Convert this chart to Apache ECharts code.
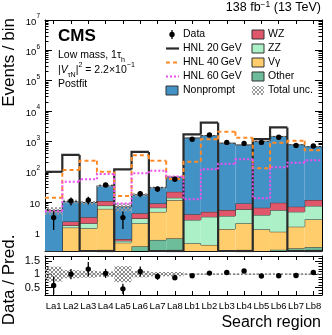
<!DOCTYPE html>
<html>
<head>
<meta charset="utf-8">
<title>HNL low mass search regions</title>
<script src="https://cdn.jsdelivr.net/npm/echarts@6/dist/echarts.min.js"></script>
<style>
  html, body { margin: 0; padding: 0; background: #fff; }
  #main { width: 332px; height: 335px; }
</style>
</head>
<body>
<div id="main"></div>
<script>
// search regions
var regions = ['La1', 'La2', 'La3', 'La4', 'La5', 'La6', 'La7', 'La8',
               'Lb1', 'Lb2', 'Lb3', 'Lb4', 'Lb5', 'Lb6', 'Lb7', 'Lb8'];

// postfit backgrounds, stacked bottom -> top
var other     = [0.01, 0.01, 0.01, 0.01, 0.01, 0.35, 0.57, 0.64, 0.1, 0.1, 0.1, 0.15, 0.1, 0.27, 0.3, 0.33];
var vgamma    = [0.05, 1.44, 1.37, 6.0, 0.45, 1.65, 4.2, 11.0, 0.34, 0.29, 1.2, 1.85, 1.17, 0.79, 1.25, 2.37];
var zz        = [0.03, 0.25, 0.63, 1.7, 0.07, 0.9, 1.8, 2.3, 2.15, 2.9, 2.2, 3.8, 2.5, 4.4, 3.25, 4.8];
var wz        = [0.05, 0.6, 1.2, 3.2, 0.08, 1.4, 2.5, 8.0, 1.4, 1.5, 2.0, 3.3, 2.8, 4.1, 2.3, 4.3];
var nonprompt = [5.2, 8.2, 6.5, 24, 6.4, 13.2, 21, 45, 1300, 1550, 875, 760, 995, 1450, 775, 660];
// relative total uncertainty
var totalUnc  = [0.28, 0.15, 0.13, 0.1, 0.3, 0.12, 0.08, 0.08, 0.03, 0.03, 0.03, 0.03, 0.03, 0.03, 0.03, 0.03];

// signal hypotheses (0 = nothing in that bin)
var hnl20 = [100, 360, 0, 0, 120, 450, 0, 0, 1700, 4150, 0, 0, 1200, 2900, 0, 0];
var hnl40 = [14, 115, 230, 100, 16, 350, 230, 58, 214, 1170, 2100, 1320, 130, 910, 1050, 510];
var hnl60 = [5, 47, 57, 85, 9, 89, 108, 70, 12.4, 121, 185, 257, 13.4, 140, 200, 240];

// observed
var dataObs = [3.1, 11, 11.7, 37, 3.1, 19, 27, 57, 1180, 1620, 930, 860, 930, 1370, 740, 710];
var dataErr = [1.9, 3.3, 3.4, 6, 1.8, 4.4, 5.2, 7.5, 34, 40, 30, 29, 30, 37, 27, 27];

// lower panel
var ratio    = [0.58, 1.0, 1.19, 1.03, 0.45, 1.1, 0.91, 0.87, 0.94, 1.04, 1.06, 1.12, 0.93, 0.94, 0.95, 1.06];
var ratioErr = [0.33, 0.19, 0.27, 0.17, 0.19, 0.19, 0.12, 0.1, 0.03, 0.03, 0.03, 0.03, 0.03, 0.03, 0.03, 0.03];

// axis ticks
var yMajorTicks = [1, 10, 100, 1e3, 1e4, 1e5, 1e6, 1e7];
var ratioTicks = [0.5, 1, 1.5];
var ratioMinor = [0.3, 0.4, 0.6, 0.7, 0.8, 0.9, 1.1, 1.2, 1.3, 1.4, 1.6];

var yMin = 0.246, yMax = 1e7;
var FONT = '"Liberation Sans", Arial, Helvetica, sans-serif';

var yMinorTicks = [];
[0.1, 1, 10, 100, 1e3, 1e4, 1e5, 1e6].forEach(function (d) {
    for (var k = 2; k <= 9; k++) {
        var v = k * d;
        if (v >= yMin && v <= yMax) yMinorTicks.push(v);
    }
});

function hatch(color) {
    var c = document.createElement('canvas');
    c.width = 4; c.height = 4;
    var g = c.getContext('2d');
    g.fillStyle = color;
    [[0,0],[1,1],[2,2],[3,3],[3,0],[2,1],[1,2],[0,3]].forEach(function (p) {
        g.fillRect(p[0], p[1], 1, 1);
    });
    return c;
}
var hatchMain = hatch('#9a9a9a');
var hatchRatio = hatch('#8a8a8a');

// pixel y on the log panel, clamped to the frame
function yAt(api, v) {
    var bottom = api.coord([0, yMin])[1];
    var top = api.coord([0, yMax])[1];
    if (!(v > yMin)) return bottom;
    return Math.max(top, Math.min(bottom, api.coord([0, v])[1]));
}

var comps = [
    {name: 'Other', vals: other, color: '#6dbd9b'},
    {name: 'Vγ', vals: vgamma, color: '#ffcd6b'},
    {name: 'ZZ', vals: zz, color: '#abf0c6'},
    {name: 'WZ', vals: wz, color: '#e0566b'},
    {name: 'Nonprompt', vals: nonprompt, color: '#4292c6'}
];

var series = [];
var cum = regions.map(function () { return 0; });
comps.forEach(function (c) {
    var rows = regions.map(function (r, i) { return [i, cum[i], cum[i] + c.vals[i]]; });
    rows.forEach(function (row, i) {
        row.push(i > 0 ? rows[i - 1][2] : row[2]);
        cum[i] = row[2];
    });
    series.push({
        type: 'custom', name: c.name, xAxisIndex: 0, yAxisIndex: 0, z: 2,
        encode: {x: 0, y: 2},
        data: rows,
        renderItem: function (params, api) {
            var i = api.value(0);
            var w = api.size([1, 1])[0];
            var cx = api.coord([i, 1])[0];
            var x0 = cx - w / 2, x1 = cx + w / 2;
            var y0 = yAt(api, api.value(1)), y1 = yAt(api, api.value(2));
            var py = yAt(api, api.value(3));
            return {type: 'group', children: [
                {type: 'rect', shape: {x: x0, y: y1, width: w, height: y0 - y1},
                 style: {fill: c.color}},
                {type: 'polyline', shape: {points: [[x0, py], [x0, y1], [x1, y1]]},
                 style: {fill: null, stroke: '#333', lineWidth: 1}}
            ]};
        }
    });
});
var total = cum.slice();

// total uncertainty band
series.push({
    type: 'custom', name: 'Total unc.', xAxisIndex: 0, yAxisIndex: 0, z: 3,
    encode: {x: 0, y: 1},
    data: total.map(function (t, i) { return [i, t * (1 - totalUnc[i]), t * (1 + totalUnc[i])]; }),
    renderItem: function (params, api) {
        var i = api.value(0);
        var w = api.size([1, 1])[0];
        var cx = api.coord([i, 1])[0];
        var y0 = yAt(api, api.value(1)), y1 = yAt(api, api.value(2));
        return {type: 'rect', shape: {x: cx - w / 2, y: y1, width: w, height: y0 - y1},
                style: {fill: {image: hatchMain, repeat: 'repeat'}}};
    }
});

function stepSeries(name, vals, color, dash, width) {
    return {
        type: 'custom', name: name, xAxisIndex: 0, yAxisIndex: 0, z: 4,
        encode: {x: 0, y: 1},
        data: vals.map(function (v, i) { return [i, v, i > 0 ? vals[i - 1] : v]; }),
        renderItem: function (params, api) {
            var i = api.value(0);
            var w = api.size([1, 1])[0];
            var cx = api.coord([i, 1])[0];
            var x0 = cx - w / 2, x1 = cx + w / 2;
            var y = yAt(api, api.value(1)), py = yAt(api, api.value(2));
            return {type: 'polyline', shape: {points: [[x0, py], [x0, y], [x1, y]]},
                    style: {fill: null, stroke: color, lineWidth: width, lineDash: dash}};
        }
    };
}
series.push(stepSeries('HNL 20 GeV', hnl20, '#2b2b2b', null, 2.2));
series.push(stepSeries('HNL 40 GeV', hnl40, '#ff8a26', [4, 3], 2));
series.push(stepSeries('HNL 60 GeV', hnl60, '#ee4fee', [2, 2], 2));

// data points
series.push({
    type: 'custom', name: 'Data', xAxisIndex: 0, yAxisIndex: 0, z: 6,
    encode: {x: 0, y: 1},
    data: dataObs.map(function (v, i) { return [i, v, dataErr[i]]; }),
    renderItem: function (params, api) {
        var i = api.value(0), v = api.value(1), e = api.value(2);
        var p = api.coord([i, v]);
        return {type: 'group', children: [
            {type: 'line', shape: {x1: p[0], y1: yAt(api, v - e), x2: p[0], y2: yAt(api, v + e)},
             style: {stroke: '#000', lineWidth: 1.3}},
            {type: 'circle', shape: {cx: p[0], cy: p[1], r: 2.7}, style: {fill: '#000'}}
        ]};
    }
});

// ratio band + reference line
series.push({
    type: 'custom', name: 'ratio unc', xAxisIndex: 2, yAxisIndex: 4, z: 2,
    encode: {x: 0, y: 1},
    data: totalUnc.map(function (u, i) { return [i, 1 - u, 1 + u]; }),
    renderItem: function (params, api) {
        var i = api.value(0);
        var w = api.size([1, 1])[0];
        var lo = api.coord([i, api.value(1)]), hi = api.coord([i, api.value(2)]);
        var one = api.coord([i, 1]);
        return {type: 'group', children: [
            {type: 'rect', shape: {x: lo[0] - w / 2, y: hi[1], width: w, height: lo[1] - hi[1]},
             style: {fill: {image: hatchRatio, repeat: 'repeat'}}},
            {type: 'line', shape: {x1: one[0] - w / 2, y1: one[1], x2: one[0] + w / 2, y2: one[1]},
             style: {stroke: '#777', lineWidth: 1, lineDash: [1, 2]}}
        ]};
    }
});
series.push({
    type: 'custom', name: 'ratio', xAxisIndex: 2, yAxisIndex: 4, z: 4,
    encode: {x: 0, y: 1},
    data: ratio.map(function (r, i) { return [i, r, ratioErr[i]]; }),
    renderItem: function (params, api) {
        var i = api.value(0), v = api.value(1), e = api.value(2);
        var p = api.coord([i, v]);
        var lo = api.coord([i, v - e]), hi = api.coord([i, v + e]);
        return {type: 'group', children: [
            {type: 'line', shape: {x1: p[0], y1: lo[1], x2: p[0], y2: hi[1]},
             style: {stroke: '#000', lineWidth: 1.3}},
            {type: 'circle', shape: {cx: p[0], cy: p[1], r: 2.7}, style: {fill: '#000'}}
        ]};
    }
});

function xAx(grid, pos, labels) {
    return {
        type: 'category', gridIndex: grid, position: pos, data: regions, boundaryGap: true,
        axisLine: {show: true, lineStyle: {color: '#000', width: 1}},
        axisTick: {show: true, inside: true, alignWithLabel: true, interval: 0, length: 4,
                   lineStyle: {color: '#000'}},
        axisLabel: {show: labels, interval: 0, color: '#000', fontSize: 9.5, fontFamily: FONT, margin: 6},
        splitLine: {show: false}
    };
}
function yLog(pos, ticks, len, labels, line) {
    return {
        type: 'log', gridIndex: 0, position: pos, min: yMin, max: yMax,
        axisLine: {show: line, lineStyle: {color: '#000', width: 1}},
        axisTick: {show: true, inside: true, length: len, customValues: ticks, lineStyle: {color: '#000'}},
        axisLabel: {
            show: labels, customValues: ticks, margin: 5, color: '#000',
            formatter: function (v) {
                var e = Math.round(Math.log(v) / Math.LN10);
                if (e === 0) return '{b|1}';
                if (e === 1) return '{b|10}';
                return '{b|10}{s|' + e + '}';
            },
            rich: {
                b: {fontSize: 9.5, fontFamily: FONT, color: '#000', lineHeight: 14, verticalAlign: 'bottom'},
                s: {fontSize: 6.5, fontFamily: FONT, color: '#000', lineHeight: 8, verticalAlign: 'top'}
            }
        },
        splitLine: {show: false}
    };
}
function yRat(pos, ticks, len, labels, line) {
    return {
        type: 'value', gridIndex: 1, position: pos, min: 0.22, max: 1.68,
        axisLine: {show: line, lineStyle: {color: '#000', width: 1}},
        axisTick: {show: true, inside: true, length: len, customValues: ticks, lineStyle: {color: '#000'}},
        axisLabel: {show: labels, customValues: ticks, margin: 5, color: '#000', fontSize: 11, fontFamily: FONT},
        splitLine: {show: false}
    };
}

function txt(x, y, text, o) {
    o = o || {};
    var align = o.align || 'left', valign = o.valign || 'middle';
    return {
        type: 'text', x: x, y: y, rotation: o.rotation || 0, z: 100, silent: true,
        style: {
            text: text, fill: '#000',
            font: (o.weight || 'normal') + ' ' + (o.size || 10.5) + 'px ' + FONT,
            align: align, verticalAlign: valign, textAlign: align, textVerticalAlign: valign,
            rich: o.rich
        }
    };
}
function richSet(size) {
    return {
        n: {fontSize: size, fontFamily: FONT, lineHeight: size + 3, verticalAlign: 'middle'},
        i: {fontSize: size, fontFamily: FONT, fontStyle: 'italic', lineHeight: size + 3, verticalAlign: 'middle'},
        sub: {fontSize: size * 0.68, fontFamily: FONT, lineHeight: size + 6, verticalAlign: 'bottom'},
        sup: {fontSize: size * 0.68, fontFamily: FONT, lineHeight: size * 0.7, verticalAlign: 'top'}
    };
}

// legend
var rowY = [34.5, 48.5, 62.5, 76.5, 90.5];
var legend = [];
legend.push({type: 'line', shape: {x1: 172, y1: rowY[0] - 4.5, x2: 172, y2: rowY[0] + 4.5},
             style: {stroke: '#000', lineWidth: 1.3}, z: 100, silent: true});
legend.push({type: 'circle', shape: {cx: 172, cy: rowY[0], r: 2.7}, style: {fill: '#000'}, z: 100, silent: true});
[['#2b2b2b', null, 2.2], ['#ff8a26', [4, 3], 2], ['#ee4fee', [2, 2], 2]].forEach(function (s, k) {
    legend.push({type: 'line', shape: {x1: 166, y1: rowY[k + 1], x2: 179, y2: rowY[k + 1]},
                 style: {stroke: s[0], lineDash: s[1], lineWidth: s[2]}, z: 100, silent: true});
});
function box(x, y, fill, stroke) {
    return {type: 'rect', shape: {x: x, y: y - 4.5, width: 12, height: 9},
            style: {fill: fill, stroke: stroke, lineWidth: 1}, z: 100, silent: true};
}
legend.push(box(166, rowY[4], '#4292c6', '#333'));
legend.push(box(252, rowY[0], '#e0566b', '#333'));
legend.push(box(252, rowY[1], '#abf0c6', '#333'));
legend.push(box(252, rowY[2], '#ffcd6b', '#333'));
legend.push(box(252, rowY[3], '#6dbd9b', '#333'));
legend.push(box(252, rowY[4], {image: hatchMain, repeat: 'repeat'}, null));
['Data', 'HNL 20\u2009GeV', 'HNL 40\u2009GeV', 'HNL 60\u2009GeV', 'Nonprompt'].forEach(function (t, k) {
    legend.push(txt(183, rowY[k], t, {size: 10.5}));
});
['WZ', 'ZZ', 'Vγ', 'Other', 'Total unc.'].forEach(function (t, k) {
    legend.push(txt(268, rowY[k], t, {size: 10.5}));
});

var labels = [
    txt(321, 15.5, '{n|138 fb}{sup|−1}{n| (13 TeV)}', {align: 'right', valign: 'bottom', size: 12.5, rich: richSet(12.5)}),
    txt(58, 36.7, 'CMS', {size: 17, weight: 'bold'}),
    txt(58, 55, '{n|Low mass, 1τ}{sub|h}', {size: 10.5, rich: richSet(10.5)}),
    txt(58, 70, '{n||}{i|V}{sub|τN}{n||}{sup|2}{n| = 2.2×10}{sup|−1}', {size: 10.5, rich: richSet(10.5)}),
    txt(58, 84, 'Postfit', {size: 10.5}),
    txt(9.5, 18, 'Events / bin', {size: 17, align: 'right', rotation: Math.PI / 2}),
    txt(9.5, 280, 'Data / Pred.', {size: 17, align: 'center', rotation: Math.PI / 2}),
    txt(321, 331, 'Search region', {size: 16, align: 'right', valign: 'bottom'})
];

var chart = echarts.init(document.getElementById('main'), null, {renderer: 'canvas'});
chart.setOption({
    animation: false,
    backgroundColor: '#fff',
    textStyle: {fontFamily: FONT},
    grid: [
        {left: 45, right: 10, top: 20, height: 231, outerBoundsMode: 'none'},
        {left: 45, right: 10, top: 256, height: 39, outerBoundsMode: 'none'}
    ],
    xAxis: [xAx(0, 'bottom', false), xAx(0, 'top', false), xAx(1, 'bottom', true), xAx(1, 'top', false)],
    yAxis: [
        yLog('left', yMajorTicks, 7, true, true),
        yLog('left', yMinorTicks, 3.5, false, false),
        yLog('right', yMajorTicks, 7, false, true),
        yLog('right', yMinorTicks, 3.5, false, false),
        yRat('left', ratioTicks, 7, true, true),
        yRat('left', ratioMinor, 3.5, false, false),
        yRat('right', ratioTicks, 7, false, true),
        yRat('right', ratioMinor, 3.5, false, false)
    ],
    series: series,
    graphic: legend.concat(labels)
});
</script>
</body>
</html>
